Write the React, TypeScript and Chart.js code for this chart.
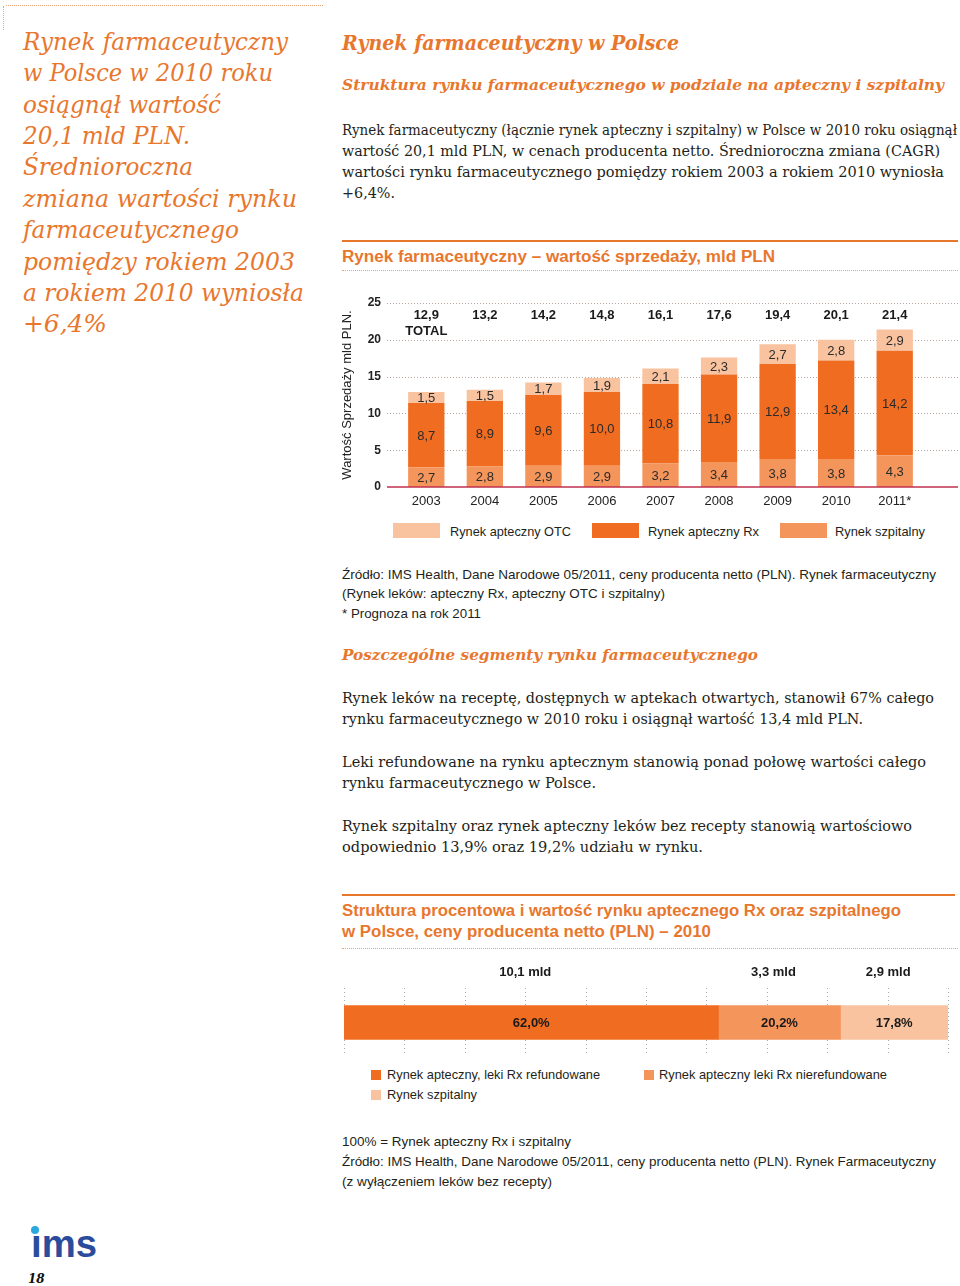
import React, { useEffect, useLayoutEffect, useRef } from 'react';
import { Chart, registerables } from 'chart.js';

Chart.register(...registerables);

// ---------- data ----------
const years = ['2003', '2004', '2005', '2006', '2007', '2008', '2009', '2010', '2011*'];
const hospitalValues = [2.7, 2.8, 2.9, 2.9, 3.2, 3.4, 3.8, 3.8, 4.3];
const rxValues = [8.7, 8.9, 9.6, 10.0, 10.8, 11.9, 12.9, 13.4, 14.2];
const otcValues = [1.5, 1.5, 1.7, 1.9, 2.1, 2.3, 2.7, 2.8, 2.9];
const totalValues = [12.9, 13.2, 14.2, 14.8, 16.1, 17.6, 19.4, 20.1, 21.4];
const yTickValues = [0, 5, 10, 15, 20, 25];

const structureLabels = [
  'Rynek apteczny, leki Rx refundowane',
  'Rynek apteczny leki Rx nierefundowane',
  'Rynek szpitalny',
];
const structureShares = [62.0, 20.2, 17.8];
const structureValues = [10.1, 3.3, 2.9];
const shareTicks = [0, 10, 20, 30, 40, 50, 60, 70, 80, 90, 100];

// ---------- styles ----------
const ORANGE = '#e8772e';
const C_RX = '#f06c20';
const C_HOSP = '#f4955b';
const C_OTC = '#f9c39f';
const TEXT = '#231f20';
const SERIF = '"DejaVu Serif", serif';
const SANS = '"Liberation Sans", Arial, Helvetica, sans-serif';

const fmt = (v: number) => v.toFixed(1).replace('.', ',');

type TProps = {
  x: number; b: number; w?: number; fs: number; ff?: string;
  bold?: boolean; italic?: boolean; color?: string; text: string;
};

function T({ x, b, w, fs, ff = SANS, bold, italic, color = TEXT, text }: TProps) {
  const ref = useRef<HTMLSpanElement>(null);
  useLayoutEffect(() => {
    const el = ref.current;
    if (!el || !w) return;
    el.style.transform = 'none';
    const nat = el.getBoundingClientRect().width;
    if (nat > 0) el.style.transform = `scaleX(${w / nat})`;
  }, [w, text, fs]);
  return (
    <span
      ref={ref}
      style={{
        position: 'absolute', left: x, top: b - 0.84 * fs, fontSize: fs,
        lineHeight: `${fs}px`, fontFamily: ff, fontWeight: bold ? 700 : 400,
        fontStyle: italic ? 'italic' : 'normal', color, whiteSpace: 'pre',
        transformOrigin: '0 0', display: 'inline-block',
      }}
    >{text}</span>
  );
}

function HLine({ x, y, w, dotted, color, thick = 1 }: { x: number; y: number; w: number; dotted?: boolean; color: string; thick?: number }) {
  return <div style={{ position: 'absolute', left: x, top: y, width: w, height: 0, borderTop: `${thick}px ${dotted ? 'dotted' : 'solid'} ${color}` }} />;
}

function SalesChart() {
  const ref = useRef<HTMLCanvasElement>(null);
  useEffect(() => {
    const canvas = ref.current!;
    const decor = {
      id: 'decor1',
      beforeDatasetsDraw(chart: any) {
        const { ctx } = chart;
        const y = chart.scales.y;
        ctx.save();
        ctx.strokeStyle = '#b8a59c';
        ctx.lineWidth = 1;
        ctx.setLineDash([1, 2]);
        yTickValues.forEach((v) => {
          if (v === 0) return;
          const py = Math.round(y.getPixelForValue(v)) + 0.5;
          ctx.beginPath();
          ctx.moveTo(52, py);
          ctx.lineTo(chart.width - 2, py);
          ctx.stroke();
        });
        ctx.restore();
      },
      afterDatasetsDraw(chart: any) {
        const { ctx, chartArea } = chart;
        const x = chart.scales.x;
        const y = chart.scales.y;
        ctx.save();
        ctx.strokeStyle = '#c0304f';
        ctx.lineWidth = 1.5;
        const p0 = y.getPixelForValue(0);
        ctx.beginPath();
        ctx.moveTo(52, p0);
        ctx.lineTo(chart.width - 2, p0);
        ctx.stroke();

        ctx.font = `13px ${SANS}`;
        ctx.fillStyle = '#2b2b2b';
        ctx.textAlign = 'center';
        ctx.textBaseline = 'middle';
        chart.data.datasets.forEach((ds: any, di: number) => {
          chart.getDatasetMeta(di).data.forEach((el: any, i: number) => {
            const p = el.getProps(['x', 'y', 'base'], true);
            ctx.fillText(fmt(ds.data[i]), p.x, (p.y + p.base) / 2 + 1);
          });
        });
        ctx.font = `bold 13px ${SANS}`;
        ctx.fillStyle = '#1a1a1a';
        totalValues.forEach((t, i) => {
          ctx.fillText(fmt(t), x.getPixelForValue(i), chartArea.top + 12);
        });
        ctx.fillText('TOTAL', x.getPixelForValue(0), chartArea.top + 28);
        ctx.restore();
      },
    };
    const chart = new Chart(canvas, {
      type: 'bar',
      data: {
        labels: years,
        datasets: [
          { label: 'Rynek szpitalny', data: hospitalValues, backgroundColor: C_HOSP },
          { label: 'Rynek apteczny Rx', data: rxValues, backgroundColor: C_RX },
          { label: 'Rynek apteczny OTC', data: otcValues, backgroundColor: C_OTC },
        ],
      },
      options: {
        responsive: false,
        animation: false,
        devicePixelRatio: 1,
        layout: { padding: { top: 13, right: 36, left: 0, bottom: 0 } },
        datasets: { bar: { categoryPercentage: 1, barPercentage: 0.62, borderWidth: 0 } },
        plugins: { legend: { display: false }, tooltip: { enabled: false } },
        scales: {
          x: {
            stacked: true,
            offset: true,
            grid: { display: false, drawTicks: false },
            border: { display: false },
            ticks: { color: '#222', font: { family: SANS, size: 13 }, padding: 7 },
            afterFit: (s: any) => { s.height = 33; },
          },
          y: {
            stacked: true,
            min: 0,
            max: 25,
            grid: { display: false, drawTicks: false },
            border: { display: false },
            ticks: { stepSize: 5, color: '#222', font: { family: SANS, size: 12, weight: 'bold' }, padding: 16 },
            title: { display: true, text: 'Wartość Sprzedaży mld PLN.', color: '#222', font: { family: SANS, size: 13 }, padding: { top: 5, bottom: 0 } },
            afterFit: (s: any) => { s.width = 62; s.paddingTop = 0; s.paddingBottom = 0; },
          },
        },
      } as any,
      plugins: [decor],
    });
    return () => chart.destroy();
  }, []);
  return <canvas ref={ref} width={625} height={230} style={{ position: 'absolute', left: 335, top: 290, width: 625, height: 230 }} />;
}

function StructureChart() {
  const ref = useRef<HTMLCanvasElement>(null);
  useEffect(() => {
    const canvas = ref.current!;
    const colors = [C_RX, C_HOSP, C_OTC];
    const decor = {
      id: 'decor2',
      beforeDatasetsDraw(chart: any) {
        const { ctx, chartArea } = chart;
        const x = chart.scales.x;
        ctx.save();
        ctx.strokeStyle = '#a9a9a9';
        ctx.lineWidth = 1;
        ctx.setLineDash([1, 3]);
        shareTicks.forEach((v) => {
          const px = Math.round(x.getPixelForValue(v)) + 0.5;
          ctx.beginPath();
          ctx.moveTo(px, chartArea.top - 2);
          ctx.lineTo(px, chartArea.bottom - 1);
          ctx.stroke();
        });
        ctx.restore();
      },
      afterDatasetsDraw(chart: any) {
        const { ctx, chartArea } = chart;
        ctx.save();
        ctx.font = `bold 13px ${SANS}`;
        ctx.fillStyle = '#1a1a1a';
        ctx.textAlign = 'center';
        chart.data.datasets.forEach((ds: any, di: number) => {
          const el: any = chart.getDatasetMeta(di).data[0];
          const p = el.getProps(['x', 'y', 'base'], true);
          const cx = (p.x + p.base) / 2;
          ctx.textBaseline = 'middle';
          ctx.fillText(fmt(ds.data[0]) + '%', cx, p.y + 1);
          ctx.textBaseline = 'alphabetic';
          ctx.fillText(fmt(structureValues[di]) + ' mld', cx - 6, chartArea.top - 14);
        });
        ctx.restore();
      },
    };
    const chart = new Chart(canvas, {
      type: 'bar',
      data: {
        labels: ['2010'],
        datasets: structureLabels.map((l, i) => ({
          label: l, data: [structureShares[i]], backgroundColor: colors[i], barThickness: 34, borderWidth: 0,
        })),
      },
      options: {
        indexAxis: 'y',
        responsive: false,
        animation: false,
        devicePixelRatio: 1,
        layout: { padding: { left: 9, right: 12, top: 35, bottom: 5 } },
        plugins: { legend: { display: false }, tooltip: { enabled: false } },
        scales: {
          x: { stacked: true, min: 0, max: 100, display: false },
          y: { stacked: true, display: false },
        },
      } as any,
      plugins: [decor],
    });
    return () => chart.destroy();
  }, []);
  return <canvas ref={ref} width={625} height={105} style={{ position: 'absolute', left: 335, top: 955, width: 625, height: 105 }} />;
}

const leftLines = [
  ['Rynek farmaceutyczny', 265], ['w Polsce w 2010 roku', 250], ['osiągnął wartość', 198],
  ['20,1 mld PLN.', 167], ['Średnioroczna', 170], ['zmiana wartości rynku', 274],
  ['farmaceutycznego', 216], ['pomiędzy rokiem 2003', 272], ['a rokiem 2010 wyniosła', 281], ['+6,4%', 84],
] as [string, number][];

export default function App() {
  const swatch = (x: number, y: number, w: number, h: number, c: string) => (
    <div style={{ position: 'absolute', left: x, top: y, width: w, height: h, background: c }} />
  );
  return (
    <div style={{ position: 'absolute', left: 0, top: 0, width: 960, height: 1286, background: '#fff', overflow: 'hidden' }}>
      {/* top-left dotted corner */}
      <HLine x={6} y={5} w={317} dotted color="#e9a276" />
      <div style={{ position: 'absolute', left: 3, top: 6, width: 0, height: 24, borderLeft: '1px dotted #e9a276' }} />

      {/* left column */}
      {leftLines.map(([t, w], i) => (
        <T key={i} x={23} b={50 + 31.4 * i} w={w} fs={24} ff={SERIF} italic color={ORANGE} text={t} />
      ))}

      {/* headings */}
      <T x={342} b={50} w={337} fs={20} ff={SERIF} bold italic color={ORANGE} text="Rynek farmaceutyczny w Polsce" />
      <T x={342} b={91} w={602} fs={15} ff={SERIF} bold italic color={ORANGE} text="Struktura rynku farmaceutycznego w podziale na apteczny i szpitalny" />

      <T x={342} b={135} w={615} fs={14.5} ff={SERIF} text="Rynek farmaceutyczny (łącznie rynek apteczny i szpitalny) w Polsce w 2010 roku osiągnął" />
      <T x={342} b={156} w={598} fs={14.5} ff={SERIF} text="wartość 20,1 mld PLN, w cenach producenta netto. Średnioroczna zmiana (CAGR)" />
      <T x={342} b={177} w={602} fs={14.5} ff={SERIF} text="wartości rynku farmaceutycznego pomiędzy rokiem 2003 a rokiem 2010 wyniosła" />
      <T x={342} b={198} w={53} fs={14.5} ff={SERIF} text="+6,4%." />

      {/* chart 1 header */}
      <HLine x={342} y={240} w={616} color={ORANGE} thick={2} />
      <T x={342} b={262} w={433} fs={16} bold color={ORANGE} text="Rynek farmaceutyczny – wartość sprzedaży, mld PLN" />
      <HLine x={342} y={270} w={616} dotted color="#e9a276" />

      <SalesChart />

      {/* chart 1 legend */}
      {swatch(393, 523, 47, 15, C_OTC)}
      <T x={450} b={536} w={121} fs={13} text="Rynek apteczny OTC" />
      {swatch(592, 523, 47, 15, C_RX)}
      <T x={648} b={536} w={111} fs={13} text="Rynek apteczny Rx" />
      {swatch(780, 523, 47, 15, C_HOSP)}
      <T x={835} b={536} w={90} fs={13} text="Rynek szpitalny" />

      {/* source */}
      <T x={342} b={579} w={594} fs={13} text="Źródło: IMS Health, Dane Narodowe 05/2011, ceny producenta netto (PLN). Rynek farmaceutyczny" />
      <T x={342} b={598} w={323} fs={13} text="(Rynek leków: apteczny Rx, apteczny OTC i szpitalny)" />
      <T x={342} b={618} w={139} fs={13} text="* Prognoza na rok 2011" />

      <T x={342} b={661} w={416} fs={15} ff={SERIF} bold italic color={ORANGE} text="Poszczególne segmenty rynku farmaceutycznego" />

      <T x={342} b={703} w={592} fs={14.5} ff={SERIF} text="Rynek leków na receptę, dostępnych w aptekach otwartych, stanowił 67% całego" />
      <T x={342} b={724} w={521} fs={14.5} ff={SERIF} text="rynku farmaceutycznego w 2010 roku i osiągnął wartość 13,4 mld PLN." />
      <T x={342} b={767} w={584} fs={14.5} ff={SERIF} text="Leki refundowane na rynku aptecznym stanowią ponad połowę wartości całego" />
      <T x={342} b={788} w={254} fs={14.5} ff={SERIF} text="rynku farmaceutycznego w Polsce." />
      <T x={342} b={831} w={570} fs={14.5} ff={SERIF} text="Rynek szpitalny oraz rynek apteczny leków bez recepty stanowią wartościowo" />
      <T x={342} b={852} w={361} fs={14.5} ff={SERIF} text="odpowiednio 13,9% oraz 19,2% udziału w rynku." />

      {/* chart 2 header */}
      <HLine x={342} y={894} w={613} color={ORANGE} thick={2} />
      <T x={342} b={916} w={559} fs={16} bold color={ORANGE} text="Struktura procentowa i wartość rynku aptecznego Rx oraz szpitalnego" />
      <T x={342} b={937} w={369} fs={16} bold color={ORANGE} text="w Polsce, ceny producenta netto (PLN) – 2010" />
      <HLine x={342} y={948} w={616} dotted color="#e9a276" />

      <StructureChart />

      {/* chart 2 legend */}
      {swatch(371, 1070, 10, 10, C_RX)}
      <T x={387} b={1079} w={213} fs={13} text={structureLabels[0]} />
      {swatch(644, 1070, 10, 10, C_HOSP)}
      <T x={659} b={1079} w={228} fs={13} text={structureLabels[1]} />
      {swatch(371, 1090, 10, 10, C_OTC)}
      <T x={387} b={1099} w={90} fs={13} text={structureLabels[2]} />

      <T x={342} b={1146} w={229} fs={13} text="100% = Rynek apteczny Rx i szpitalny" />
      <T x={342} b={1166} w={594} fs={13} text="Źródło: IMS Health, Dane Narodowe 05/2011, ceny producenta netto (PLN). Rynek Farmaceutyczny" />
      <T x={342} b={1186} w={210} fs={13} text="(z wyłączeniem leków bez recepty)" />

      {/* logo */}
      <T x={31} b={1257} w={66} fs={38} bold color="#2b4c9c" text="ıms" />
      <div style={{ position: 'absolute', left: 31, top: 1226, width: 8, height: 8, borderRadius: 4, background: '#2aa8e0' }} />
      <T x={28} b={1283} fs={12} ff={SERIF} bold italic color="#111" text="18" />
    </div>
  );
}
